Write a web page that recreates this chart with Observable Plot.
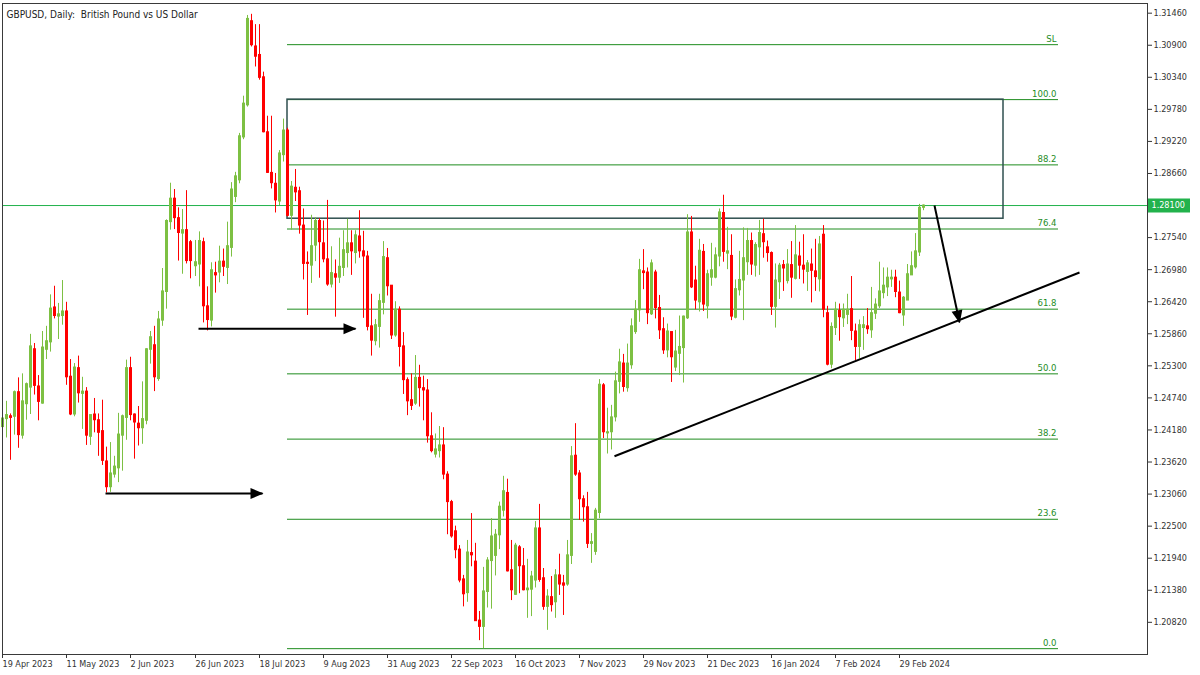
<!DOCTYPE html>
<html><head><meta charset="utf-8">
<script src="https://cdn.jsdelivr.net/npm/d3@7"></script>
<script src="https://cdn.jsdelivr.net/npm/@observablehq/plot@0.6"></script>
<style>
html,body{margin:0;padding:0;background:#fff;}
#chart{width:1200px;height:675px;overflow:hidden;}
</style></head><body><div id="chart"></div>
<script>
// ---- Daily GBPUSD candles (bar index 0 = 19 Apr 2023) ----
const opens = [1.2423,1.2437,1.2442,1.2441,1.2484,1.2408,1.2463,1.2492,1.2559,1.2494,1.2464,1.2558,1.2571,1.2632,1.2616,1.2617,1.2625,1.2511,1.2445,1.2526,1.2481,1.2485,1.2406,1.2445,1.2435,1.2416,1.2363,1.2318,1.2340,1.2351,1.2408,1.2439,1.2526,1.2445,1.2429,1.2421,1.2434,1.2558,1.2566,1.2507,
1.2609,1.2659,1.2781,1.2822,1.2788,1.2761,1.2767,1.2746,1.2704,1.2707,1.2746,1.2634,1.2609,1.2692,1.2693,1.2712,1.2701,1.2736,1.2825,1.2854,1.2929,1.2985,1.3132,1.3088,1.3073,1.3034,1.2938,1.2867,1.2848,1.2817,
1.2898,1.2941,1.2792,1.2841,1.2835,1.2775,1.2710,1.2705,1.2740,1.2783,1.2744,1.2716,1.2672,1.2690,1.2684,1.2701,1.2727,1.2744,1.2727,1.2756,1.2730,1.2721,1.2599,1.2573,1.2598,1.2640,1.2718,1.2670,1.2583,1.2628,
1.2564,1.2505,1.2470,1.2464,1.2509,1.2491,1.2487,1.2407,1.2375,1.2381,1.2391,1.2340,1.2292,1.2241,1.2209,1.2157,1.2133,1.2203,1.2188,1.2085,1.2074,1.2135,1.2189,1.2198,1.2234,1.2277,1.2308,1.2173,1.2130,1.2213,
1.2180,1.2138,1.2139,1.2155,1.2246,1.2159,1.2109,1.2126,1.2117,1.2164,1.2150,1.2148,1.2198,1.2373,1.2342,1.2297,1.2283,1.2219,1.2205,1.2273,1.2496,1.2412,1.2414,1.2440,1.2502,1.2534,1.2491,1.2531,1.2589,1.2627,
1.2695,1.2693,1.2620,1.2693,1.2631,1.2594,1.2557,1.2589,1.2527,1.2551,1.2561,1.2613,1.2763,1.2679,1.2641,1.2729,1.2634,1.2684,1.2684,1.2721,1.2797,1.2726,1.2722,1.2614,1.2662,1.2679,1.2711,1.2748,1.2705,1.2737,
1.2760,1.2737,1.2727,1.2633,1.2676,1.2706,1.2678,1.2706,1.2682,1.2721,1.2705,1.2694,1.2707,1.2695,1.2681,1.2759,1.2622,1.2532,1.2596,1.2626,1.2613,1.2619,1.2629,1.2590,1.2563,1.2596,1.2599,1.2592,1.2621,1.2634,
1.2657,1.2667,1.2681,1.2684,1.2658,1.2618,1.2644,1.2688,1.2702,1.2728,1.2806];
const highs = [1.2441,1.2468,1.2446,1.2486,1.2509,1.2516,1.2500,1.2585,1.2569,1.2513,1.2590,1.2599,1.2654,1.2669,1.2639,1.2679,1.2641,1.2541,1.2534,1.2547,1.2510,1.2492,1.2444,1.2473,1.2446,1.2470,1.2388,1.2396,1.2372,1.2447,1.2444,1.2540,1.2545,1.2446,1.2459,1.2502,1.2560,1.2590,1.2599,1.2625,
1.2700,1.2785,1.2849,1.2838,1.2806,1.2803,1.2836,1.2749,1.2749,1.2764,1.2753,1.2668,1.2710,1.2711,1.2739,1.2734,1.2781,1.2850,1.2868,1.2936,1.3001,1.3142,1.3144,1.3126,1.3126,1.3043,1.2966,1.2966,1.2866,1.2906,
1.2961,1.2945,1.2852,1.2873,1.2842,1.2804,1.2729,1.2793,1.2789,1.2787,1.2783,1.2819,1.2738,1.2715,1.2753,1.2766,1.2786,1.2766,1.2766,1.2801,1.2765,1.2730,1.2655,1.2611,1.2655,1.2747,1.2735,1.2670,1.2642,1.2633,
1.2588,1.2509,1.2516,1.2548,1.2531,1.2512,1.2506,1.2448,1.2411,1.2424,1.2422,1.2345,1.2295,1.2250,1.2216,1.2164,1.2225,1.2272,1.2220,1.2101,1.2178,1.2195,1.2263,1.2244,1.2292,1.2337,1.2332,1.2225,1.2220,1.2216,
1.2211,1.2192,1.2171,1.2258,1.2288,1.2176,1.2139,1.2162,1.2174,1.2201,1.2164,1.2225,1.2389,1.2429,1.2347,1.2303,1.2309,1.2237,1.2281,1.2506,1.2499,1.2456,1.2461,1.2519,1.2559,1.2550,1.2568,1.2612,1.2644,1.2716,
1.2733,1.2701,1.2715,1.2697,1.2653,1.2614,1.2603,1.2589,1.2592,1.2617,1.2617,1.2794,1.2791,1.2704,1.2751,1.2742,1.2697,1.2744,1.2736,1.2804,1.2828,1.2772,1.2759,1.2680,1.2730,1.2771,1.2770,1.2762,1.2745,1.2784,
1.2786,1.2748,1.2729,1.2708,1.2709,1.2714,1.2733,1.2747,1.2775,1.2746,1.2759,1.2714,1.2734,1.2751,1.2756,1.2775,1.2634,1.2605,1.2641,1.2638,1.2638,1.2655,1.2686,1.2603,1.2610,1.2616,1.2630,1.2667,1.2647,1.2711,
1.2701,1.2701,1.2697,1.2697,1.2678,1.2651,1.2707,1.2729,1.2761,1.2812,1.2811];
const lows = [1.2420,1.2404,1.2365,1.2409,1.2386,1.2402,1.2435,1.2445,1.2479,1.2434,1.2463,1.2541,1.2554,1.2612,1.2576,1.2601,1.2496,1.2443,1.2441,1.2465,1.2419,1.2391,1.2391,1.2413,1.2372,1.2356,1.2308,1.2309,1.2334,1.2326,1.2346,1.2400,1.2434,1.2367,1.2390,1.2393,1.2427,1.2533,1.2485,1.2503,
1.2599,1.2629,1.2767,1.2768,1.2713,1.2690,1.2708,1.2682,1.2686,1.2668,1.2605,1.2591,1.2598,1.2657,1.2675,1.2686,1.2672,1.2720,1.2815,1.2848,1.2925,1.2982,1.3087,1.3052,1.3029,1.2937,1.2866,1.2839,1.2797,1.2810,
1.2886,1.2790,1.2767,1.2817,1.2760,1.2680,1.2618,1.2674,1.2712,1.2683,1.2710,1.2669,1.2666,1.2615,1.2674,1.2686,1.2701,1.2688,1.2708,1.2718,1.2613,1.2591,1.2547,1.2565,1.2561,1.2619,1.2652,1.2576,1.2580,1.2528,
1.2480,1.2443,1.2452,1.2461,1.2458,1.2434,1.2395,1.2378,1.2369,1.2369,1.2331,1.2235,1.2229,1.2193,1.2151,1.2109,1.2117,1.2179,1.2084,1.2050,1.2036,1.2107,1.2105,1.2163,1.2209,1.2266,1.2170,1.2120,1.2129,1.2132,
1.2137,1.2089,1.2092,1.2142,1.2152,1.2103,1.2068,1.2100,1.2089,1.2129,1.2094,1.2145,1.2183,1.2337,1.2260,1.2257,1.2211,1.2185,1.2199,1.2263,1.2403,1.2376,1.2383,1.2432,1.2481,1.2484,1.2484,1.2524,1.2585,1.2606,
1.2663,1.2602,1.2618,1.2612,1.2576,1.2550,1.2544,1.2501,1.2520,1.2513,1.2500,1.2611,1.2665,1.2628,1.2624,1.2625,1.2612,1.2669,1.2682,1.2703,1.2711,1.2698,1.2609,1.2612,1.2652,1.2609,1.2688,1.2688,1.2685,1.2688,
1.2718,1.2711,1.2618,1.2596,1.2646,1.2660,1.2673,1.2648,1.2680,1.2681,1.2673,1.2660,1.2640,1.2660,1.2659,1.2614,1.2530,1.2525,1.2583,1.2573,1.2597,1.2602,1.2574,1.2539,1.2542,1.2557,1.2585,1.2578,1.2611,1.2630,
1.2647,1.2651,1.2667,1.2649,1.2621,1.2599,1.2644,1.2688,1.2699,1.2721,1.2801];
const closes = [1.2438,1.2444,1.2439,1.2484,1.2409,1.2468,1.2498,1.2564,1.2495,1.2467,1.2562,1.2573,1.2630,1.2617,1.2620,1.2625,1.2510,1.2445,1.2527,1.2482,1.2485,1.2408,1.2444,1.2435,1.2413,1.2364,1.2318,1.2342,1.2354,1.2410,1.2442,1.2526,1.2444,1.2431,1.2421,1.2437,1.2559,1.2580,1.2510,1.2611,
1.2660,1.2783,1.2822,1.2788,1.2762,1.2767,1.2713,1.2713,1.2711,1.2748,1.2634,1.2610,1.2697,1.2688,1.2712,1.2703,1.2739,1.2838,1.2861,1.2931,1.2988,1.3136,1.3090,1.3070,1.3033,1.2938,1.2867,1.2849,1.2819,1.2901,
1.2941,1.2792,1.2843,1.2833,1.2775,1.2708,1.2708,1.2739,1.2783,1.2746,1.2716,1.2672,1.2692,1.2684,1.2703,1.2732,1.2744,1.2730,1.2758,1.2730,1.2721,1.2598,1.2574,1.2601,1.2643,1.2720,1.2669,1.2583,1.2628,1.2563,
1.2505,1.2468,1.2460,1.2509,1.2491,1.2487,1.2407,1.2381,1.2384,1.2391,1.2340,1.2292,1.2232,1.2208,1.2155,1.2131,1.2204,1.2199,1.2084,1.2074,1.2136,1.2190,1.2232,1.2235,1.2284,1.2311,1.2171,1.2138,1.2216,1.2180,
1.2138,1.2141,1.2162,1.2246,1.2156,1.2109,1.2127,1.2112,1.2164,1.2148,1.2146,1.2199,1.2372,1.2340,1.2297,1.2283,1.2219,1.2222,1.2277,1.2497,1.2414,1.2414,1.2440,1.2503,1.2536,1.2493,1.2534,1.2599,1.2628,1.2697,
1.2692,1.2622,1.2709,1.2631,1.2592,1.2557,1.2590,1.2545,1.2555,1.2563,1.2616,1.2763,1.2667,1.2644,1.2731,1.2637,1.2690,1.2697,1.2723,1.2798,1.2729,1.2730,1.2616,1.2664,1.2680,1.2718,1.2748,1.2707,1.2741,1.2762,
1.2746,1.2727,1.2633,1.2679,1.2705,1.2700,1.2707,1.2684,1.2723,1.2705,1.2698,1.2709,1.2696,1.2685,1.2742,1.2628,1.2532,1.2598,1.2628,1.2615,1.2628,1.2628,1.2591,1.2563,1.2601,1.2601,1.2594,1.2622,1.2637,1.2660,
1.2670,1.2684,1.2684,1.2659,1.2622,1.2649,1.2690,1.2704,1.2730,1.2806,1.2810];

// ---- axes ----
const dateTickBars = [0,16,32,48,64,80,96,112,128,144,160,176,192,208,224];
const dateTickLabels = ["19 Apr 2023","11 May 2023","2 Jun 2023","26 Jun 2023","18 Jul 2023","9 Aug 2023","31 Aug 2023","22 Sep 2023","16 Oct 2023","7 Nov 2023","29 Nov 2023","21 Dec 2023","16 Jan 2024","7 Feb 2024","29 Feb 2024"];
const priceTicks = [1.31460,1.30900,1.30340,1.29780,1.29220,1.28660,1.28100,1.27540,1.26980,1.26420,1.25860,1.25300,1.24740,1.24180,1.23620,1.23060,1.22500,1.21940,1.21380,1.20820];
const currentPrice = 1.28100;

// ---- Fibonacci levels ----
const fibNames  = ["SL","100.0","88.2","76.4","61.8","50.0","38.2","23.6","0.0"];
const fibPrices = [1.3091,1.2995,1.2881,1.2769,1.2629,1.2516,1.2402,1.2262,1.2036];
const fibFromBar = 71.2, fibToBar = 263.8;

// ---- zone box ----
const zoneBars = [71.2, 249.9];
const zonePrices = [1.2995, 1.2787];

// ---- trendline & arrows ----
const trendBars = [152.9, 268.9];
const trendPrices = [1.2372, 1.2693];
const arrowFromBars  = [25.7, 48.9, 232.7];
const arrowToBars    = [64.9, 88.2, 238.9];
const arrowFromPrices = [1.2307, 1.2595, 1.2810];
const arrowToPrices   = [1.2307, 1.2595, 1.2606];

const bars = opens.map((o, i) => ({i, open: o, high: highs[i], low: lows[i], close: closes[i]}));
const fibs = fibNames.map((n, k) => ({name: n, price: fibPrices[k]}));
const arrows = arrowFromBars.map((b, k) => ({x1: b, x2: arrowToBars[k], y1: arrowFromPrices[k], y2: arrowToPrices[k]}));

const UP = "#7DC043", DOWN = "#FF0000", FIB = "#1E8C1E", LAST = "#22B24C";
const col = d => d.close >= d.open ? UP : DOWN;

function arrowHead(color, context) {
  const doc = (context && context.document) || document;
  const NS = "http://www.w3.org/2000/svg";
  const m = doc.createElementNS(NS, "marker");
  m.setAttribute("viewBox", "-13 -6 14 12");
  m.setAttribute("markerWidth", "14");
  m.setAttribute("markerHeight", "12");
  m.setAttribute("markerUnits", "userSpaceOnUse");
  m.setAttribute("orient", "auto");
  m.setAttribute("refX", "0");
  m.setAttribute("refY", "0");
  const p = doc.createElementNS(NS, "path");
  p.setAttribute("d", "M-12,-5.5L1,0L-12,5.5Z");
  p.setAttribute("fill", color);
  p.setAttribute("stroke", "none");
  m.appendChild(p);
  return m;
}

const fmt5 = d3.format(".5f");

const chart = Plot.plot({
  width: 1200, height: 675,
  marginLeft: 2, marginRight: 53, marginTop: 3, marginBottom: 21,
  style: {fontFamily: "'DejaVu Sans Condensed','Liberation Sans',Arial,sans-serif", fontSize: "9px", color: "#333", background: "#fff"},
  x: {type: "linear", domain: [-0.1, 286], axis: null, round: true},
  y: {domain: [1.20258, 1.31629], axis: null},
  color: {type: "identity"},
  marks: [
    Plot.ruleY([currentPrice], {stroke: LAST, strokeWidth: 1}),
    Plot.ruleY(fibs, {y: "price", x1: fibFromBar, x2: fibToBar, stroke: FIB, strokeWidth: 1}),
    Plot.text(fibs, {x: fibToBar, y: "price", text: "name", textAnchor: "end", lineAnchor: "bottom", dx: -2, dy: -3, fill: FIB, fontSize: 9.5}),
    Plot.rect([0], {x1: () => zoneBars[0], x2: () => zoneBars[1], y1: () => zonePrices[0], y2: () => zonePrices[1], fill: "none", stroke: "#2F4F4F", strokeWidth: 1.5}),
    Plot.ruleX(bars, {x: "i", y1: "low", y2: "high", stroke: col, strokeWidth: 1}),
    Plot.ruleX(bars, {x: "i", y1: d => Math.max(d.open, d.close), y2: d => Math.min(d.open, d.close), stroke: col, strokeWidth: 3, insetTop: -0.5, insetBottom: -0.5}),
    Plot.link([0], {x1: () => trendBars[0], x2: () => trendBars[1], y1: () => trendPrices[0], y2: () => trendPrices[1], stroke: "#000", strokeWidth: 2}),
    Plot.link(arrows, {x1: "x1", x2: "x2", y1: "y1", y2: "y2", stroke: "#000", strokeWidth: 2, markerEnd: arrowHead}),
    Plot.frame({stroke: "#3a3a3a"}),
    Plot.axisY(priceTicks, {anchor: "right", tickFormat: fmt5, tickSize: 4, tickPadding: 2, stroke: "#333", fill: "#333", fontSize: 9}),
    Plot.axisX(dateTickBars, {anchor: "bottom", tickFormat: d => dateTickLabels[dateTickBars.indexOf(d)], tickSize: 4, tickPadding: 2, textAnchor: "start", stroke: "#333", fill: "#333", fontSize: 9}),
    Plot.ruleY([currentPrice], {stroke: LAST, strokeWidth: 14, insetLeft: 1146, insetRight: -43}),
    Plot.text([currentPrice], {y: d => d, text: d => fmt5(d), frameAnchor: "right", dx: 4, textAnchor: "start", fill: "#fff", fontSize: 9}),
    Plot.text(["GBPUSD, Daily:\u00a0 British Pound vs US Dollar"], {frameAnchor: "top-left", dx: 4, dy: 7, textAnchor: "start", fill: "#222", fontSize: 10})
  ]
});
document.getElementById("chart").appendChild(chart);
</script>
</body></html>
